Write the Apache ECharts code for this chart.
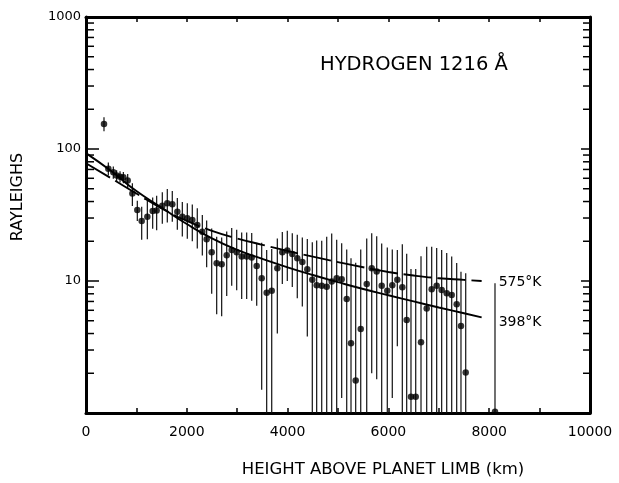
<!DOCTYPE html>
<html><head><meta charset="utf-8">
<script src="https://cdn.jsdelivr.net/npm/echarts@6/dist/echarts.min.js"></script>
<style>html,body{margin:0;padding:0;background:#fff}#c{width:619px;height:483px}</style>
</head><body><div id="c"></div>
<script>
// ---- data ----
const obsHeight = [357, 443, 542, 608, 675, 741, 827, 920, 1018, 1105, 1217, 1323, 1402, 1514, 1613, 1712, 1812, 1911, 2010, 2109, 2208, 2308, 2394, 2494, 2593, 2692, 2792, 2891, 2990, 3089, 3188, 3288, 3387, 3486, 3585, 3685, 3796, 3895, 3994, 4093, 4192, 4292, 4391, 4490, 4577, 4677, 4776, 4875, 4974, 5073, 5173, 5258, 5351, 5451, 5570, 5669, 5768, 5867, 5978, 6077, 6177, 6276, 6363, 6448, 6542, 6647, 6760, 6859, 6958, 7057, 7157, 7256, 7355, 7440, 7534, 8115];
const obsValue = [155, 71, 66.6, 63, 61.7, 61, 57.6, 46, 34.5, 28.5, 30.7, 33.9, 34.2, 37.1, 38.8, 38.1, 33.5, 30.7, 29.9, 29, 26.6, 23.6, 20.7, 16.5, 13.6, 13.4, 15.7, 17.2, 16.5, 15.3, 15.3, 15.1, 13, 10.5, 8.15, 8.45, 12.5, 16.5, 17, 16, 14.9, 13.9, 12.3, 10.2, 9.3, 9.2, 9.05, 9.9, 10.5, 10.3, 7.3, 3.37, 1.76, 4.33, 9.5, 12.5, 11.8, 9.2, 8.45, 9.3, 10.2, 8.96, 5.07, 1.33, 1.33, 3.43, 6.2, 8.65, 9.2, 8.55, 8.07, 7.83, 6.66, 4.56, 2.03, 1.02];
const obsError = [19, 8, 7, 6, 6, 6, 7, 9, 6, 8, 10, 9, 10, 10, 11, 10, 9, 9, 9, 9, 9, 8, 8, 8.5, 8, 8, 8, 8, 8, 8, 8, 8, 6.5, 9, 9, 9, 8.5, 7, 7, 7, 7.5, 7.5, 8.5, 9.5, 11, 11, 12.6, 13, 10, 9, 10, 11.5, 12, 13, 11.5, 10.5, 10, 10, 9.5, 8, 7, 10, 11, 11, 11, 12, 12, 9.5, 8.6, 8.6, 8.2, 7.5, 7, 7.2, 9.4, 8.6];
const curveHeight = [0, 500, 1000, 1500, 2000, 2500, 3000, 3500, 4000, 4500, 5000, 5500, 6000, 6500, 7000, 7500, 7850];
const curve398K = [93, 68, 48, 36, 27, 21, 17.2, 14.7, 12.7, 11.1, 9.8, 8.7, 7.8, 7.0, 6.3, 5.7, 5.3];
const curve575K = [78, 60, 46, 35.5, 28.5, 24, 21, 18.8, 16.9, 15.3, 13.9, 12.7, 11.7, 11.0, 10.5, 10.2, 10.0];
const xTickLabels = ['0', '2000', '4000', '6000', '8000', '10000'];
const yTickLabels = ['1000', '100', '10'];
const minorTickValues = [2,3,4,5,6,7,8,9,20,30,40,50,60,70,80,90,200,300,400,500,600,700,800,900];
const xMin = 0, xMax = 10000, yMin = 1, yMax = 1000;

const FONT = 'DejaVu Sans';
const chart = echarts.init(document.getElementById('c'), null, {renderer: 'canvas'});

const errData = obsHeight.map((h, i) => [h, Math.max(obsValue[i] - obsError[i], yMin), obsValue[i] + obsError[i]]);
const ptData = obsHeight.map((h, i) => [h, obsValue[i]]);
const l398 = curveHeight.map((h, i) => [h, curve398K[i]]);
const l575 = curveHeight.map((h, i) => [h, curve575K[i]]);

const axisLine = {show: true, onZero: false, lineStyle: {color: '#000', width: 3}};
const option = {
  backgroundColor: '#fff',
  animation: false,
  title: {
    text: 'HYDROGEN 1216 Å', left: 320, top: 55, padding: 0,
    textStyle: {fontFamily: FONT, fontSize: 19.5, fontWeight: 'normal', color: '#000'}
  },
  grid: {left: 86, right: 29, top: 17, bottom: 70},
  xAxis: [{
    type: 'value', min: xMin, max: xMax, interval: 1000, position: 'bottom',
    axisLine: axisLine,
    axisTick: {show: true, inside: true, length: 5, lineStyle: {color: '#000', width: 1.5}},
    axisLabel: {
      color: '#000', fontFamily: FONT, fontSize: 14, margin: 12,
      formatter: v => (v % 2000 === 0 ? xTickLabels[v / 2000] : '')
    },
    splitLine: {show: false},
    name: 'HEIGHT ABOVE PLANET LIMB (km)', nameLocation: 'middle', nameGap: 48,
    nameTextStyle: {color: '#000', fontFamily: FONT, fontSize: 16.5, padding: [0, 0, 0, 90]}
  }, {
    type: 'value', min: xMin, max: xMax, interval: 1000, position: 'top',
    axisLine: axisLine,
    axisTick: {show: true, inside: true, length: 5, lineStyle: {color: '#000', width: 1.5}},
    axisLabel: {show: false}, splitLine: {show: false}
  }],
  yAxis: [{
    type: 'log', logBase: 10, min: yMin, max: yMax, position: 'left',
    axisLine: axisLine,
    axisTick: {show: true, inside: true, length: 13, lineStyle: {color: '#000', width: 1.5}},
    axisLabel: {
      color: '#000', fontFamily: FONT, fontSize: 13, margin: 5,
      formatter: v => { const i = Math.round(3 - Math.log10(v)); return i >= 0 && i < yTickLabels.length ? yTickLabels[i] : ''; }
    },
    splitLine: {show: false}, minorTick: {show: false},
    name: 'RAYLEIGHS', nameLocation: 'middle', nameGap: 60, nameRotate: 90,
    nameTextStyle: {color: '#000', fontFamily: FONT, fontSize: 16, padding: [0, 0, 0, 36]}
  }, {
    type: 'log', logBase: 10, min: yMin, max: yMax, position: 'right',
    axisLine: axisLine,
    axisTick: {show: true, inside: true, length: 9, lineStyle: {color: '#000', width: 1.5}},
    axisLabel: {show: false}, splitLine: {show: false}
  }],
  series: [
    {
      type: 'custom', name: 'minorTicks', xAxisIndex: 0, yAxisIndex: 0, clip: false, silent: true,
      data: minorTickValues.map(v => [xMin, v]),
      renderItem: (params, api) => {
        const v = api.value(1);
        const pl = api.coord([xMin, v]);
        const pr = api.coord([xMax, v]);
        const st = {stroke: '#000', lineWidth: 1.5};
        return {type: 'group', children: [
          {type: 'line', shape: {x1: pl[0], y1: pl[1], x2: pl[0] + 8, y2: pl[1]}, style: st},
          {type: 'line', shape: {x1: pr[0] - 7, y1: pr[1], x2: pr[0], y2: pr[1]}, style: st}
        ]};
      }
    },
    {
      type: 'custom', name: 'errors', xAxisIndex: 0, yAxisIndex: 0, silent: true,
      encode: {x: 0, y: [1, 2]},
      data: errData,
      renderItem: (params, api) => {
        const x = api.value(0);
        const top = api.coord([x, api.value(2)]);
        const bot = api.coord([x, api.value(1)]);
        const cs = params.coordSys;
        const yb = Math.min(bot[1], cs.y + cs.height);
        const yt = Math.max(top[1], cs.y);
        return {type: 'line', shape: {x1: top[0], y1: yt, x2: top[0], y2: yb},
          style: {stroke: '#111', lineWidth: 1.2}};
      }
    },
    {
      type: 'line', name: '398K', data: l398, smooth: true, showSymbol: false, symbol: 'none',
      lineStyle: {color: '#000', width: 1.9},
      endLabel: {show: true, formatter: '398°K', distance: 17, offset: [0, 5],
        color: '#000', fontFamily: FONT, fontSize: 14}
    },
    {
      type: 'line', name: '575K', data: l575, smooth: true, showSymbol: false, symbol: 'none',
      lineStyle: {color: '#000', width: 1.9, type: [28, 6]},
      endLabel: {show: true, formatter: '575°K', distance: 17, offset: [0, 1],
        color: '#000', fontFamily: FONT, fontSize: 14}
    },
    {
      type: 'scatter', name: 'obs', data: ptData, symbol: 'circle', symbolSize: 6.5, clip: false,
      itemStyle: {color: '#000'}
    }
  ]
};
chart.setOption(option);
</script>
</body></html>
